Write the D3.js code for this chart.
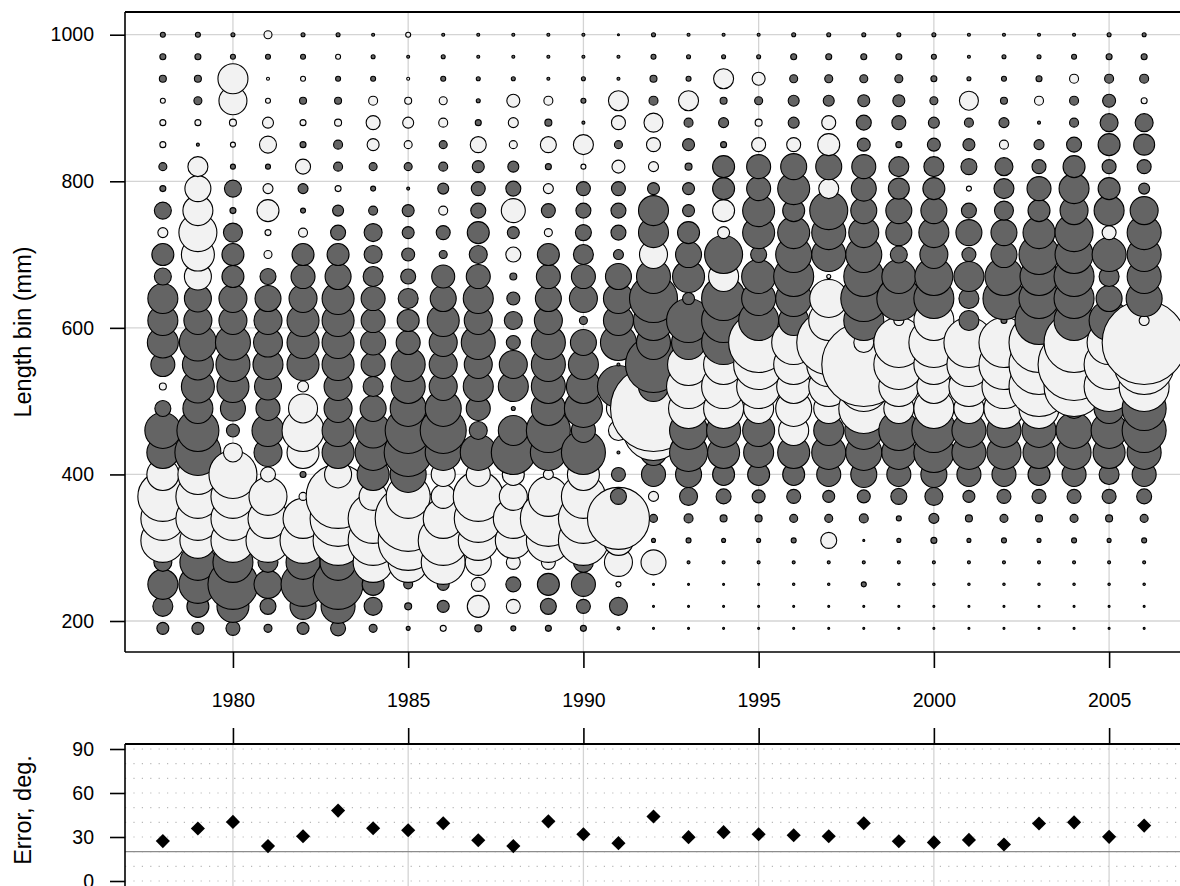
<!DOCTYPE html>
<html><head><meta charset="utf-8">
<script src="https://cdn.jsdelivr.net/npm/d3@7"></script>
<style>
body{margin:0;background:#fff}
text{font-family:"Liberation Sans",Arial,Helvetica,sans-serif;fill:#000}
</style>
</head><body>
<svg id="c" width="1180" height="886"></svg>
<script>
const years = [1978,1979,1980,1981,1982,1983,1984,1985,1986,1987,1988,1989,1990,1991,1992,1993,1994,1995,1996,1997,1998,1999,2000,2001,2002,2003,2004,2005,2006];
const lengthBins = [1000,970,940,910,880,850,820,790,760,730,700,670,640,610,580,550,520,490,460,430,400,370,340,310,280,250,220,190];
// residuals per year, ordered like lengthBins (positive = dark, negative = light)
const resid = [
 [0.5,0.6,0.7,-0.5,-0.6,-0.6,0.8,0.6,1.7,-1.0,2.2,1.7,3.0,3.0,3.1,2.4,-0.7,1.6,3.6,3.2,-3.2,-5.0,-4.4,-4.4,1.8,3.0,2.0,1.2],
 [0.5,0.6,0.7,0.8,-0.6,0.3,-2.0,-2.6,-3.0,-3.8,-3.3,-2.7,2.7,2.8,3.7,3.1,3.3,3.0,4.2,4.6,-4.0,-4.4,-4.4,-3.6,3.6,3.8,2.2,1.2],
 [0.4,0.5,-3.0,-2.8,-0.7,-0.5,0.5,1.7,0.6,1.9,2.2,2.2,2.8,2.8,3.5,3.4,3.2,2.5,1.3,-1.9,-4.8,-4.4,-4.4,-4.4,4.0,5.0,3.2,1.4],
 [-0.8,0.5,-0.3,-0.5,-1.1,-1.7,0.5,-1.0,-2.2,-0.6,-0.8,1.6,2.6,2.8,2.9,3.0,2.7,2.4,3.2,2.8,-1.5,-3.8,-4.0,-4.4,2.0,2.8,1.6,0.8],
 [0.4,0.5,-0.5,0.7,-0.6,0.6,-1.5,1.0,0.5,-0.9,2.2,2.4,2.8,3.2,3.2,3.2,-1.1,-2.9,-4.2,-3.2,0.6,-0.8,-4.0,-4.6,3.4,4.4,2.6,1.2],
 [0.4,-0.5,0.5,0.7,-0.7,0.9,0.9,-0.6,1.1,1.5,2.2,2.6,3.2,3.2,3.2,3.2,2.8,2.8,3.2,3.2,-2.7,-6.4,-5.6,-5.0,3.6,5.0,3.4,1.5],
 [0.3,0.4,0.5,-0.9,-1.4,-1.2,0.8,0.5,0.9,1.8,1.8,2.0,2.4,2.4,2.5,2.4,2.0,2.6,3.5,3.6,3.2,-2.8,-5.0,-5.0,-4.0,2.2,1.8,0.8],
 [-0.5,0.3,-0.3,-0.7,-1.1,-0.8,0.8,0.3,1.2,1.2,1.3,1.5,2.0,2.2,2.4,3.4,3.4,3.6,4.6,4.8,3.6,-4.4,-6.6,-6.0,-4.0,0.9,0.7,0.4],
 [0.3,0.4,0.5,-0.8,-0.9,0.8,0.9,1.1,-0.9,1.4,0.8,2.3,2.6,3.2,2.8,2.8,2.8,3.6,4.6,3.6,-2.4,-2.4,-4.0,-5.0,-4.4,1.2,1.2,-0.6],
 [0.3,0.3,0.4,0.4,0.6,-1.6,1.2,1.4,1.5,2.2,1.8,2.4,3.0,2.8,3.4,2.8,3.0,2.4,1.8,3.6,-2.4,-5.0,-4.8,-4.0,-2.6,-1.4,-2.2,0.7],
 [0.3,0.3,0.4,-1.3,-1.0,-0.8,1.1,1.5,-2.4,1.2,-1.5,0.7,1.3,1.8,1.4,2.8,3.0,0.4,3.0,4.4,-2.2,-2.8,-4.0,-3.6,-1.4,1.5,-1.4,0.5],
 [0.3,0.3,0.3,-0.9,0.7,-1.6,0.6,-1.0,1.4,-0.8,2.2,2.4,2.6,2.8,3.4,3.4,3.4,3.4,4.4,3.6,-1.0,-4.0,-5.6,-4.4,-1.4,2.2,1.6,0.6],
 [0.3,0.3,0.4,0.5,0.3,-2.0,-0.5,1.4,1.5,1.6,2.0,2.4,2.8,0.8,2.6,3.0,3.4,3.8,2.4,4.4,-3.2,-4.4,-5.0,-5.0,2.0,2.4,1.4,0.6],
 [0.2,0.3,0.3,-2.0,-1.4,0.8,-1.3,1.4,1.5,1.5,1.0,2.6,3.0,3.0,3.6,0.3,4.2,-2.4,-2.0,0.3,1.4,1.6,-6.2,-3.0,-2.8,-0.5,1.8,0.3],
 [0.4,0.5,0.7,0.9,-1.9,-1.4,-1.0,1.2,3.0,3.0,-2.8,3.4,4.8,4.0,3.4,5.6,3.0,-8.6,-6.0,2.6,2.4,-1.0,0.8,0.4,-2.5,0.2,0.2,0.2],
 [0.3,0.4,0.5,-2.0,0.9,1.2,0.7,1.2,1.2,2.2,2.6,3.2,1.2,4.4,3.4,-4.2,-4.4,-4.0,3.8,3.8,2.6,1.8,0.9,0.5,0.3,0.2,0.2,0.2],
 [0.3,0.4,-2.0,0.7,1.0,0.6,2.2,2.2,-2.2,-1.2,3.8,-3.0,4.4,4.4,4.4,-4.0,-4.4,-4.0,3.4,3.2,2.2,1.5,0.7,0.4,0.3,0.2,0.2,0.2],
 [0.3,0.4,-1.3,0.8,-0.7,-1.4,2.4,2.4,3.2,3.2,1.6,3.4,3.4,4.0,-6.0,-5.0,-4.4,-3.0,3.2,3.0,2.2,1.3,0.7,0.4,0.3,0.2,0.2,0.2],
 [0.4,0.6,0.8,1.1,1.1,-1.4,2.6,3.2,2.2,3.2,3.6,4.0,3.6,3.0,-4.4,-4.0,-3.4,-3.6,-3.0,3.2,2.2,1.4,0.8,0.5,0.3,0.24,0.2,0.2],
 [0.4,0.6,0.8,1.1,-1.4,-2.2,2.6,-2.0,3.8,3.4,3.4,-0.4,-3.8,-4.0,-6.4,-4.4,-4.0,-3.0,3.0,3.4,2.4,1.2,0.8,-1.6,0.3,0.24,0.2,0.2],
 [0.4,0.6,0.8,1.2,1.5,1.3,2.4,2.5,2.6,3.0,3.6,4.0,4.6,4.0,-2.0,-8.4,-5.0,-5.0,3.8,3.6,2.6,1.3,0.9,0.2,0.3,0.5,0.2,0.2],
 [0.4,0.6,0.8,1.2,1.4,0.6,2.0,2.1,2.6,2.6,1.7,3.4,4.4,-1.0,-5.0,-5.0,-4.0,-3.0,4.0,3.4,2.4,1.6,0.5,0.4,0.3,0.24,0.2,0.2],
 [0.4,0.5,0.6,0.8,1.1,1.3,2.0,2.2,2.6,3.0,2.8,3.8,4.0,-4.0,-5.0,-4.0,-3.4,-4.0,4.4,4.0,2.6,1.8,1.0,0.6,0.3,0.24,0.2,0.2],
 [0.3,0.3,0.4,-1.9,0.9,1.2,1.6,-0.5,1.5,2.6,1.4,3.0,2.0,2.0,-5.0,-4.4,-4.0,-3.0,3.4,3.4,2.4,1.2,0.7,0.4,0.3,0.24,0.2,0.2],
 [0.3,0.4,0.5,0.7,1.0,-0.9,1.8,2.0,1.9,2.6,2.6,3.8,4.2,0.6,-5.0,-5.0,-4.4,-4.0,3.4,3.4,2.4,1.4,0.8,0.5,0.3,0.24,0.2,0.2],
 [0.3,0.4,0.6,-0.9,0.3,1.0,1.4,2.4,2.2,3.2,4.0,3.8,4.0,4.8,-6.0,-6.0,-6.0,-4.0,3.4,3.2,2.2,1.4,0.7,0.4,0.3,0.24,0.2,0.2],
 [0.3,0.5,-0.9,0.9,0.9,1.5,2.2,3.0,2.8,3.8,3.8,4.0,4.0,4.0,-6.0,-7.2,-6.0,2.0,3.6,3.4,2.4,1.4,0.8,0.5,0.3,0.24,0.2,0.2],
 [0.4,0.6,0.9,1.3,1.8,2.2,1.4,2.2,3.0,-1.4,3.4,2.0,2.6,4.0,-4.4,-5.0,-5.0,3.0,3.6,3.2,2.0,1.4,0.7,0.4,0.3,0.24,0.2,0.2],
 [0.4,0.6,0.9,-0.6,1.8,2.1,1.4,1.1,2.8,3.4,3.4,3.4,3.6,-1.0,-8.4,-6.0,-5.0,4.4,4.4,3.4,2.4,1.5,0.8,0.5,0.3,0.24,0.2,0.2]
];
const errorDeg = [27.2,35.8,40.3,23.8,30.5,48,36,34.6,39.4,27.8,23.8,40.7,31.9,25.8,44,29.9,33.3,31.9,31.2,30.5,39.4,27.1,26.3,28,24.9,39.2,40,30.1,37.8];
const xTicks = [1980,1985,1990,1995,2000,2005];
const yTicks = [200,400,600,800,1000];
const errTicks = [0,30,60,90];
const errGrid = [0,10,20,30,40,50,60,70,80,90];
const errRef = 20;

const svg = d3.select("#c");
const L = 125, R = 1182, T1 = 12, B1 = 652, T2 = 744, B2 = 900;
const x = d3.scaleLinear().domain([1976.92, 2007.08]).range([L, R]);
const y = d3.scaleLinear().domain([157.7, 1031]).range([B1, T1]);
const yE = d3.scaleLinear().domain([0, 90]).range([881, 749]);
const rS = d3.scaleLinear().domain([0, 10]).range([0, 50]);
const FONT = '"Liberation Sans",Arial,sans-serif';

// top panel grid
const g1 = svg.append("g");
g1.selectAll("line.gy").data(yTicks).join("line")
  .attr("x1", L).attr("x2", R).attr("y1", d => y(d)).attr("y2", d => y(d))
  .attr("stroke", "#d4d4d4").attr("stroke-width", 1.3);
g1.selectAll("line.gx").data(xTicks).join("line")
  .attr("x1", d => x(d)).attr("x2", d => x(d)).attr("y1", T1).attr("y2", B1)
  .attr("stroke", "#d4d4d4").attr("stroke-width", 1.3);

// bubbles: year by year, low bins first so higher bins lie on top
const cells = [];
years.forEach((yr, i) => {
  for (let j = lengthBins.length - 1; j >= 0; j--) {
    cells.push({year: yr, bin: lengthBins[j], v: resid[i][j]});
  }
});
svg.append("g").selectAll("circle").data(cells).join("circle")
  .attr("cx", d => x(d.year)).attr("cy", d => y(d.bin))
  .attr("r", d => rS(Math.abs(d.v)))
  .attr("fill", d => d.v >= 0 ? "#646464" : "#f2f2f2")
  .attr("stroke", "#000").attr("stroke-width", 1.1);

// top frame
const f1 = svg.append("g").attr("stroke", "#000").attr("fill", "none");
f1.append("line").attr("x1", L).attr("x2", R).attr("y1", T1).attr("y2", T1).attr("stroke-width", 2);
f1.append("line").attr("x1", L).attr("x2", R).attr("y1", B1).attr("y2", B1).attr("stroke-width", 1.6);
f1.append("line").attr("x1", L).attr("x2", L).attr("y1", T1).attr("y2", B1).attr("stroke-width", 1.6);

// y axis of top panel
const ay = svg.append("g").attr("transform", `translate(${L},0)`)
  .call(d3.axisLeft(y).tickValues(yTicks).tickSize(15).tickPadding(16).tickFormat(d3.format("d")));
ay.select(".domain").remove();
ay.selectAll(".tick line").attr("stroke", "#000").attr("stroke-width", 1.6);
ay.selectAll("text").style("font-size", "19.5px").style("font-family", FONT);

// x axis below top panel
const ax1 = svg.append("g").attr("transform", `translate(0,${B1})`)
  .call(d3.axisBottom(x).tickValues(xTicks).tickSize(16).tickPadding(25).tickFormat(d3.format("d")));
ax1.select(".domain").remove();
ax1.selectAll(".tick line").attr("stroke", "#000").attr("stroke-width", 1.6);
ax1.selectAll("text").style("font-size", "19.5px").style("font-family", FONT);

// bottom panel
const g2 = svg.append("g");
g2.selectAll("line.dg").data(errGrid).join("line")
  .attr("x1", L).attr("x2", R).attr("y1", d => yE(d)).attr("y2", d => yE(d))
  .attr("stroke", "#b8b8b8").attr("stroke-width", 1.1).attr("stroke-dasharray", "1.2,7.2");
g2.selectAll("line.gx").data(xTicks).join("line")
  .attr("x1", d => x(d)).attr("x2", d => x(d)).attr("y1", T2).attr("y2", B2)
  .attr("stroke", "#d4d4d4").attr("stroke-width", 1.3);
g2.append("line").attr("x1", L).attr("x2", R).attr("y1", yE(errRef)).attr("y2", yE(errRef))
  .attr("stroke", "#8c8c8c").attr("stroke-width", 1.3);

const pts = years.map((yr, i) => ({year: yr, e: errorDeg[i]}));
g2.selectAll("path.pt").data(pts).join("path")
  .attr("d", d3.symbol(d3.symbolSquare, 100)())
  .attr("transform", d => `translate(${x(d.year)},${yE(d.e)}) rotate(45)`)
  .attr("fill", "#000");

const f2 = svg.append("g").attr("stroke", "#000");
f2.append("line").attr("x1", L).attr("x2", R).attr("y1", T2).attr("y2", T2).attr("stroke-width", 2);
f2.append("line").attr("x1", L).attr("x2", L).attr("y1", T2).attr("y2", B2).attr("stroke-width", 1.6);

const ax2 = svg.append("g").attr("transform", `translate(0,${T2})`)
  .call(d3.axisTop(x).tickValues(xTicks).tickSize(16).tickFormat(""));
ax2.select(".domain").remove();
ax2.selectAll(".tick line").attr("stroke", "#000").attr("stroke-width", 1.6);

const ayE = svg.append("g").attr("transform", `translate(${L},0)`)
  .call(d3.axisLeft(yE).tickValues(errTicks).tickSize(15).tickPadding(16));
ayE.select(".domain").remove();
ayE.selectAll(".tick line").attr("stroke", "#000").attr("stroke-width", 1.6);
ayE.selectAll("text").style("font-size", "19.5px").style("font-family", FONT);

// axis titles
svg.append("text").attr("transform", `translate(31,${(T1 + B1) / 2}) rotate(-90)`)
  .attr("text-anchor", "middle").style("font-size", "23.5px").text("Length bin (mm)");
svg.append("text").attr("transform", `translate(31,810) rotate(-90)`)
  .attr("text-anchor", "middle").style("font-size", "23.5px").text("Error, deg.");
</script>
</body></html>
